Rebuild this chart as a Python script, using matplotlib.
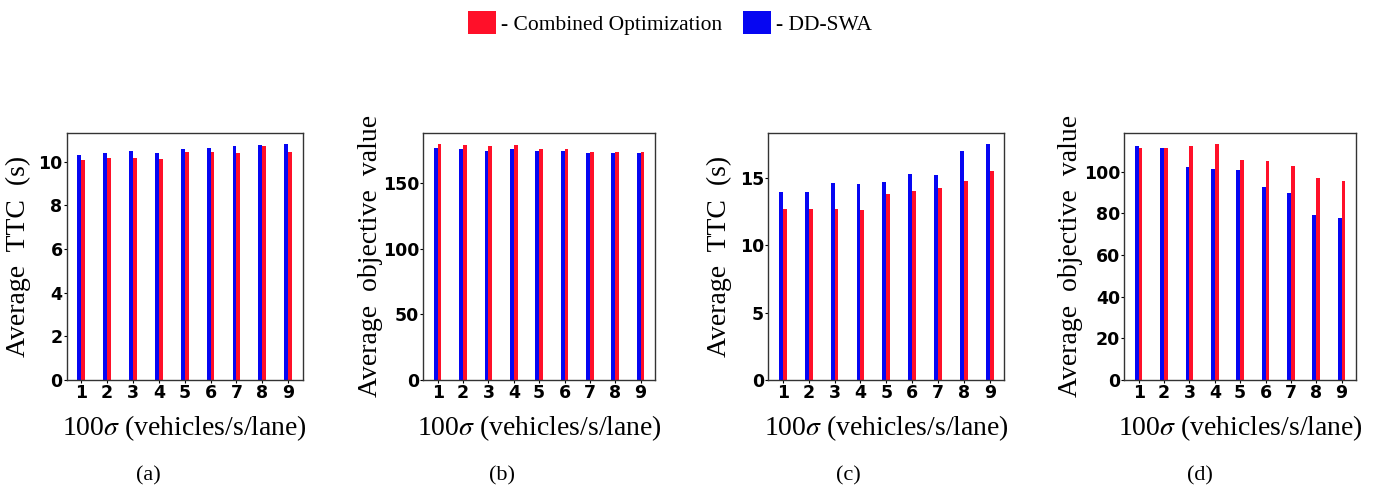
import matplotlib
matplotlib.use("Agg")
import matplotlib.pyplot as plt
from matplotlib.patches import Patch
import numpy as np

sigma = [1, 2, 3, 4, 5, 6, 7, 8, 9]

# (a) Average TTC (s)
a_ddswa = [10.29, 10.40, 10.49, 10.40, 10.57, 10.60, 10.72, 10.76, 10.78]
a_comb = [10.06, 10.15, 10.17, 10.11, 10.43, 10.43, 10.38, 10.69, 10.44]

# (b) Average objective value
b_ddswa = [176.7, 175.7, 174.2, 175.4, 174.4, 174.4, 172.9, 172.9, 172.6]
b_comb = [179.2, 179.0, 178.2, 178.5, 175.4, 176.0, 173.7, 173.7, 173.7]

# (c) Average TTC (s)
c_ddswa = [13.99, 13.99, 14.61, 14.56, 14.73, 15.30, 15.20, 17.01, 17.49]
c_comb = [12.67, 12.70, 12.70, 12.65, 13.84, 14.04, 14.26, 14.81, 15.55]

# (d) Average objective value
d_ddswa = [112.3, 111.1, 102.3, 101.0, 100.6, 92.8, 89.7, 79.3, 77.7]
d_comb = [111.1, 111.4, 112.5, 113.0, 105.6, 105.1, 102.9, 97.0, 95.7]

panels = [
    (a_ddswa, a_comb, "Average  TTC  (s)", "(a)"),
    (b_ddswa, b_comb, "Average  objective  value", "(b)"),
    (c_ddswa, c_comb, "Average  TTC  (s)", "(c)"),
    (d_ddswa, d_comb, "Average  objective  value", "(d)"),
]

W, H = 1375, 492
fig = plt.figure(figsize=(W / 100, H / 100), dpi=100)
plt.rcParams['mathtext.fontset'] = 'stix'

RED = '#ff1029'
BLUE = '#0606f2'

lefts = [66.7, 423.3, 768.3, 1124.3]
widths = [236, 231.7, 236, 231.7]
ylab_x = [-0.153, -0.173, -0.155, -0.177]
sub_x = [148, 502, 848, 1200]
ax_bottom = 380
ax_top = 132.7

serif = ['Liberation Serif', 'DejaVu Serif']

for i, (dd, co, ylab, sub) in enumerate(panels):
    ax = fig.add_axes([lefts[i] / W, (H - ax_bottom) / H, widths[i] / W, (ax_bottom - ax_top) / H])
    x = np.array(sigma, dtype=float)
    bw = 0.15
    ax.bar(x - bw / 2, dd, width=bw, color=BLUE, linewidth=0)
    ax.bar(x + bw / 2, co, width=bw, color=RED, linewidth=0)
    ax.set_xticks(sigma)
    ax.set_xticklabels([str(s) for s in sigma])
    ax.tick_params(axis='both', labelsize=12.5, length=2, pad=1.0, width=0.8)
    for lbl in ax.get_xticklabels() + ax.get_yticklabels():
        lbl.set_fontweight('bold')
    for sp in ax.spines.values():
        sp.set_color('#333333')
        sp.set_linewidth(1.0)
    ax.set_ylabel(ylab, fontsize=20, family=serif)
    ax.yaxis.set_label_coords(ylab_x[i], 0.5)
    ax.set_xlabel(r"100$\sigma$ (vehicles/s/lane)", fontsize=20, family=serif, labelpad=8)
    fig.text(sub_x[i] / W, 1 - 476 / H, sub, fontsize=16, family=serif, ha='center', va='center')

handles = [Patch(facecolor=RED, edgecolor='none', label='- Combined Optimization'),
           Patch(facecolor=BLUE, edgecolor='none', label='- DD-SWA')]
fig.legend(handles=handles, loc='center', bbox_to_anchor=(670 / W, 1 - 23 / H), ncol=2,
           frameon=False, prop={'family': serif, 'size': 15.5},
           handlelength=1.3, handleheight=1.3, handletextpad=0.2, columnspacing=1.0)

fig.savefig('out.png', dpi=100)
